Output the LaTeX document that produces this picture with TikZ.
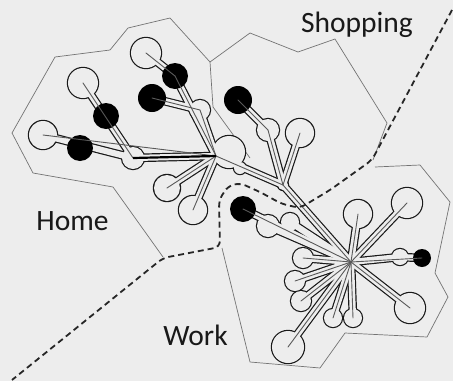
\documentclass[tikz,border=0pt]{standalone}
\usepackage{fontspec}
\setmainfont{Carlito}
\definecolor{bg}{RGB}{237,237,237}
\definecolor{lab}{RGB}{25,25,25}
\begin{document}
\begin{tikzpicture}[x=1pt,y=-1pt,
  region/.style={draw=black!55,line width=0.7pt,line join=round},
  border/.style={draw=black!85,line width=1.8pt,dash pattern=on 6pt off 4pt},
  outer/.style={draw=black!90,line width=8.6pt,line cap=round},
  inner/.style={draw=bg,line width=6.2pt,line cap=round},
  core/.style={draw=black!65,line width=0.9pt,line cap=round},
  lbl/.style={font=\fontsize{29.5}{32}\selectfont,text=lab,inner sep=0pt,anchor=base}]
\fill[bg] (0,0) rectangle (453,381);
\useasboundingbox (0,0) rectangle (453,381);
% coordinates
\coordinate (H) at (216,156);  \coordinate (Hb) at (229,152);
\coordinate (J1) at (133,158); \coordinate (W3) at (43,135);  \coordinate (B3) at (80,148);
\coordinate (W2) at (83,83);   \coordinate (B2) at (106,116);
\coordinate (J2) at (200,110); \coordinate (B4) at (152,98);
\coordinate (B1) at (175,76);  \coordinate (W1) at (146,53);
\coordinate (L1) at (167,188); \coordinate (L2) at (193,210);
\coordinate (T1) at (240,168);
\coordinate (S) at (283,185);  \coordinate (Sa) at (268,130); \coordinate (Bs) at (238,100);
\coordinate (Sb) at (300,133);
\coordinate (K) at (351,262);
\coordinate (U1) at (358,214); \coordinate (U2) at (407,203);
\coordinate (R1) at (400,257); \coordinate (Bk) at (422,258);
\coordinate (D1) at (410,308); \coordinate (D2) at (288,347);
\coordinate (G1) at (303,258); \coordinate (G2) at (295,281); \coordinate (G3) at (301,301);
\coordinate (G4) at (333,318); \coordinate (G5) at (353,318);
\coordinate (Bw) at (243,209); \coordinate (P1) at (268,226); \coordinate (P2) at (290,222);
% region outlines
\draw[region] (163,257) -- (113,187) -- (33,173) -- (12,133) -- (55,57) -- (110,50)
  -- (128,28) -- (170,18) -- (210,62) -- (213,107) -- (250,158);
\draw[region] (210,62) -- (250,33) -- (298,52) -- (335,39) -- (387,123) -- (373,160);
\draw[region] (222,248) -- (250,362) -- (320,368) -- (345,333) -- (427,337) -- (448,297)
  -- (435,273) -- (450,202) -- (420,165) -- (375,167);
% tree outlines
\def\stalks{J1/H, J1/W3, J1/W2, H/J2, J2/B4, H/B1, B1/W1, H/L1, H/L2, H/Hb, H/S, S/Sa, Sa/Bs, S/Sb,
  S/K, K/U1, K/U2, K/R1, R1/Bk, K/D1, K/D2, K/G1, K/G2, K/G3, K/G4, K/G5, K/Bw, K/P1, K/P2}
\def\circs{Hb/16, J1/11, W3/14, W2/15, J2/10, W1/15, L1/13, L2/14, T1/6, Sa/11, Sb/14,
  U1/14, U2/15, R1/8, D1/15, D2/16, G1/10, G2/10, G3/10, G4/9, G5/9, P1/11, P2/9, S/5}
\foreach \p/\q in \stalks {\draw[outer] (\p) -- (\q);}
\foreach \p/\r in \circs {\fill[black!90] (\p) circle ({\r pt+1.2pt});}
\foreach \p/\q in \stalks {\draw[inner] (\p) -- (\q);}
\foreach \p/\r in \circs {\fill[bg] (\p) circle (\r pt);}
% black dots
\foreach \p/\r in {B3/13, B2/13, B4/14, B1/13, Bs/14, Bk/9, Bw/13} {\fill[black] (\p) circle (\r pt);}
% centre lines
\foreach \p/\q in {H/W3, J1/W2, H/J2, J2/B4, H/B1, B1/W1, H/L1, H/L2, H/S, S/Sa, Sa/Bs, S/Sb, S/K,
  K/U1, K/U2, K/Bk, K/D1, K/D2, K/G1, K/G2, K/G3, K/G4, K/G5, K/Bw}
  {\draw[core] (\p) -- (\q);}
\draw[black,line width=2.2pt] (J1) -- (H);
% dashed borders
\draw[border,rounded corners=6pt] (452,10) -- (372,160) -- (330,190) -- (300,208) -- (282,204)
  -- (260,192) -- (240,183) -- (228,186) -- (219,200) -- (220,247) -- (163,258) -- (12,380);
% labels
\node[lbl] (shop) at (357,32) {Shopping};
\node[lbl] (home) at (72.5,230) {Home};
\node[lbl] (work) at (195.5,345) {Work};
\end{tikzpicture}
\end{document}
